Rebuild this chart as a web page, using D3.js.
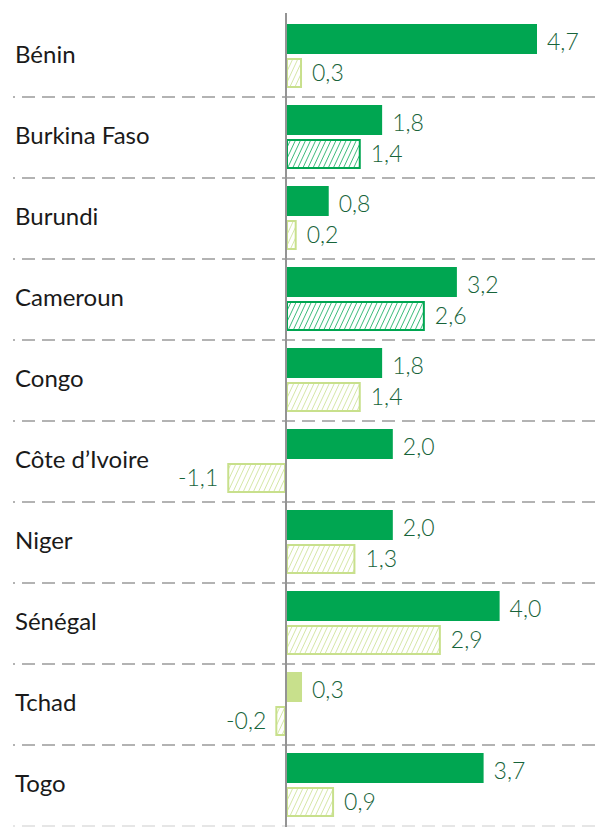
<!DOCTYPE html>
<html>
<head>
<meta charset="utf-8">
<script src="https://cdn.jsdelivr.net/npm/d3@7"></script>
<style>
  html, body { margin: 0; padding: 0; background: #fff; }
  svg { display: block; }
</style>
</head>
<body>
<svg id="chart" width="598" height="827"></svg>
<script>
// Countries, top to bottom
const countries = ["Bénin", "Burkina Faso", "Burundi", "Cameroun", "Congo",
  "Côte d’Ivoire", "Niger", "Sénégal", "Tchad", "Togo"];

// First bar of each country (solid)
const firstValues = [4.7, 1.8, 0.8, 3.2, 1.8, 2.0, 2.0, 4.0, 0.3, 3.7];
const firstStyles = ["dark", "dark", "dark", "dark", "dark", "dark", "dark", "dark", "light", "dark"];

// Second bar of each country (hatched)
const secondValues = [0.3, 1.4, 0.2, 2.6, 1.4, -1.1, 1.3, 2.9, -0.2, 0.9];
const secondStyles = ["light", "dark", "light", "dark", "light", "light", "light", "light", "light", "light"];

const DARK = "#00a651";
const LIGHT = "#c8e08c";
const LABEL = "#17643a";

const svg = d3.select("#chart");
const W = 598, H = 827;

const rowsTop = 16, rowH = 81;
const y = d3.scaleBand()
  .domain(countries)
  .range([rowsTop, rowsTop + rowH * countries.length])
  .paddingInner(0).paddingOuter(0);

// value scale: zero line at x≈286, 4.7 -> ≈537
const x = d3.scaleLinear().domain([0, 4.7]).range([286, 537]);

const fmt = v => d3.format(".1f")(v).replace(".", ",").replace("−", "-");

// hatch patterns
const defs = svg.append("defs");
[["hatch-dark", DARK], ["hatch-light", LIGHT]].forEach(([id, col]) => {
  const p = defs.append("pattern")
    .attr("id", id)
    .attr("patternUnits", "userSpaceOnUse")
    .attr("width", 4.6).attr("height", 4.6)
    .attr("patternTransform", "rotate(25)");
  p.append("line")
    .attr("x1", 0).attr("y1", 0).attr("x2", 0).attr("y2", 4.6)
    .attr("stroke", col).attr("stroke-width", 1.4);
});

// dashed separators
svg.append("g").selectAll("line")
  .data(countries)
  .join("line")
  .attr("x1", 13).attr("x2", W)
  .attr("y1", d => y(d) + y.bandwidth())
  .attr("y2", d => y(d) + y.bandwidth())
  .attr("stroke", (d, i) => i === countries.length - 1 ? "#e6e6e6" : "#b3b3b3")
  .attr("stroke-width", 2)
  .attr("stroke-dasharray", "13 7")
  .attr("stroke-dashoffset", 11);

// country labels
svg.append("g").selectAll("text")
  .data(countries)
  .join("text")
  .attr("x", 15)
  .attr("y", d => y(d) + y.bandwidth() / 2 - 2)
  .attr("dy", "0.35em")
  .attr("font-family", "Lato, 'Noto Sans', sans-serif")
  .attr("font-size", 24)
  .attr("fill", "#1a1a1a")
  .text(d => d);

const barH = 30;
const off1 = 8, off2 = 42;

// solid bars
svg.append("g").selectAll("rect")
  .data(countries)
  .join("rect")
  .attr("x", (d, i) => x(Math.min(0, firstValues[i])))
  .attr("y", d => y(d) + off1)
  .attr("width", (d, i) => Math.abs(x(firstValues[i]) - x(0)))
  .attr("height", barH)
  .attr("fill", (d, i) => firstStyles[i] === "dark" ? DARK : LIGHT);

// hatched bars
svg.append("g").selectAll("rect")
  .data(countries)
  .join("rect")
  .attr("x", (d, i) => x(Math.min(0, secondValues[i])) + 1)
  .attr("y", d => y(d) + off2 + 1)
  .attr("width", (d, i) => Math.max(0, Math.abs(x(secondValues[i]) - x(0)) - 2))
  .attr("height", barH - 2)
  .attr("fill", (d, i) => secondStyles[i] === "dark" ? "url(#hatch-dark)" : "url(#hatch-light)")
  .attr("stroke", (d, i) => secondStyles[i] === "dark" ? DARK : LIGHT)
  .attr("stroke-width", 2);

// value labels
function valueLabels(values, off, dyShift) {
  svg.append("g").selectAll("text")
    .data(countries)
    .join("text")
    .attr("x", (d, i) => values[i] >= 0 ? x(values[i]) + 10 : x(values[i]) - 9)
    .attr("y", d => y(d) + off + barH / 2 + dyShift)
    .attr("dy", "0.35em")
    .attr("text-anchor", (d, i) => values[i] >= 0 ? "start" : "end")
    .attr("font-family", "Lato, 'Noto Sans', sans-serif")
    .attr("font-weight", 300)
    .attr("font-size", 23)
    .attr("fill", LABEL)
    .text((d, i) => fmt(values[i]));
}
valueLabels(firstValues, off1, 3);
valueLabels(secondValues, off2, 0);

// zero axis
svg.append("line")
  .attr("x1", x(0)).attr("x2", x(0))
  .attr("y1", 13).attr("y2", H)
  .attr("stroke", "#949494")
  .attr("stroke-width", 2);
</script>
</body>
</html>
